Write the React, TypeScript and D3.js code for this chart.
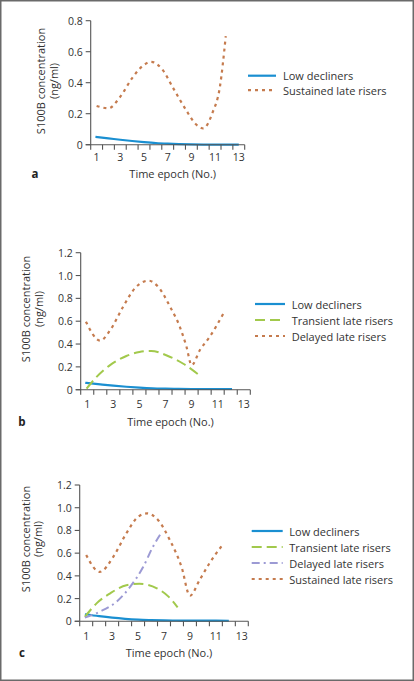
import React from "react";
import * as d3 from "d3";

// ---------- Data ----------
const xTickLabels = [1, 3, 5, 7, 9, 11, 13];
const yTicksA = [0, 0.2, 0.4, 0.6, 0.8];
const yTicksBC = [0, 0.2, 0.4, 0.6, 0.8, 1.0, 1.2];

// Panel a
const lowAx = [0.9, 2, 3, 4, 5, 6, 7, 8, 9, 10, 11, 12, 13];
const lowAy = [0.05, 0.041, 0.032, 0.024, 0.017, 0.011, 0.007, 0.004, 0.002, 0.001, 0, 0, 0];
const sustAx = [1, 2, 3, 4, 5, 5.6, 6.5, 7.5, 8.5, 9.4, 10, 10.8, 11.4, 11.9];
const sustAy = [0.25, 0.235, 0.31, 0.43, 0.515, 0.535, 0.49, 0.36, 0.23, 0.13, 0.105, 0.21, 0.37, 0.7];

// Panel b
const lowBx = [0.85, 2, 3, 4, 5, 6, 7, 8, 9, 10, 11, 12.1];
const lowBy = [0.06, 0.047, 0.036, 0.026, 0.018, 0.012, 0.009, 0.007, 0.006, 0.006, 0.006, 0.006];
const transBx = [0.95, 1.7, 2.75, 4.0, 5.0, 5.9, 7.1, 8.4, 9.5];
const transBy = [0.01, 0.11, 0.215, 0.295, 0.33, 0.34, 0.3, 0.225, 0.135];
const delayBx = [0.9, 2.0, 2.75, 3.75, 4.65, 5.7, 6.45, 7.35, 8.1, 8.6, 9.0, 9.65, 10.4, 11.45];
const delayBy = [0.596, 0.43, 0.52, 0.727, 0.888, 0.955, 0.9, 0.727, 0.55, 0.38, 0.215, 0.35, 0.465, 0.67];

// Panel c
const lowCx = [0.9, 2, 3, 4, 5, 6, 7, 8, 9, 10, 11, 12];
const lowCy = [0.062, 0.045, 0.032, 0.022, 0.015, 0.011, 0.008, 0.007, 0.006, 0.006, 0.006, 0.005];
const transCx = [0.9, 1.8, 2.85, 4.1, 5.1, 6.45, 7.35, 8.05];
const transCy = [0.04, 0.158, 0.246, 0.318, 0.33, 0.29, 0.217, 0.123];
const delayCx = [0.9, 2.05, 3.35, 4.4, 5.4, 6.15, 6.85];
const delayCy = [0.032, 0.085, 0.173, 0.305, 0.48, 0.657, 0.79];
const sustCx = [1.0, 2.05, 3.1, 4.1, 5.0, 5.7, 6.55, 7.45, 8.35, 9.0, 9.75, 10.5, 11.45];
const sustCy = [0.584, 0.435, 0.57, 0.775, 0.92, 0.95, 0.89, 0.716, 0.48, 0.225, 0.364, 0.51, 0.663];

const legendA = ["Low decliners", "Sustained late risers"];
const legendB = ["Low decliners", "Transient late risers", "Delayed late risers"];
const legendC = ["Low decliners", "Transient late risers", "Delayed late risers", "Sustained late risers"];

// ---------- Styles ----------
const FONT = "'Open Sans', 'Noto Sans', sans-serif";
const AXIS = "#555";
const TEXT = "#333";
const STY = {
  low: { color: "#1a8fd1", dash: "none", width: 2.2 },
  trans: { color: "#a2c94c", dash: "10 5", width: 2 },
  delay: { color: "#9c9ad4", dash: "8 4 2 4", width: 2 },
  sust: { color: "#c57b4e", dash: "3 4", width: 2.2 },
};

type Series = { xs: number[]; ys: number[]; style: { color: string; dash: string; width: number } };

type PanelCfg = {
  x0: number; x1: number; yBottom: number; yTop: number; yMax: number;
  yTicks: number[]; tickFmt: (v: number) => string;
  series: Series[]; legend: string[]; legendStyles: Series["style"][];
  legLine: [number, number]; legText: number; legY0: number; legDy: number;
  yLabelX: [number, number]; yLabelCY: number;
  tickLabelDy: number; titleY: number; letter: string; letterX: number;
};

function Panel({ c }: { c: PanelCfg }) {
  const x = d3.scaleLinear().domain([0.5, 13.5]).range([c.x0, c.x1]);
  const y = d3.scaleLinear().domain([0, c.yMax]).range([c.yBottom, c.yTop]);
  const line = d3
    .line<[number, number]>()
    .x((d) => x(d[0]))
    .y((d) => y(d[1]))
    .curve(d3.curveMonotoneX);
  const minorTicks = d3.range(0.5, 13.51, 1);
  const titleX = (c.x0 + c.x1) / 2 + 5;
  return (
    <g fontFamily={FONT}>
      {c.series.map((s, i) => (
        <path
          key={i}
          d={line(s.xs.map((v, j) => [v, s.ys[j]] as [number, number])) || ""}
          fill="none"
          stroke={s.style.color}
          strokeWidth={s.style.width}
          strokeDasharray={s.style.dash}
        />
      ))}
      {/* axes */}
      <line x1={c.x0} x2={c.x0} y1={c.yTop} y2={c.yBottom} stroke={AXIS} strokeWidth={1.1} />
      <line x1={c.x0 - 5} x2={c.x1} y1={c.yBottom} y2={c.yBottom} stroke={AXIS} strokeWidth={1.1} />
      {c.yTicks.map((t) => (
        <g key={t}>
          <line x1={c.x0 - 5} x2={c.x0} y1={y(t)} y2={y(t)} stroke={AXIS} strokeWidth={1.1} />
          <text x={c.x0 - 8} y={y(t)} textAnchor="end" dominantBaseline="central" fontSize={10.5} fill={TEXT}>
            {c.tickFmt(t)}
          </text>
        </g>
      ))}
      {minorTicks.map((t) => (
        <line key={t} x1={x(t)} x2={x(t)} y1={c.yBottom} y2={c.yBottom + 5} stroke={AXIS} strokeWidth={1.1} />
      ))}
      {xTickLabels.map((t) => (
        <text key={t} x={x(t)} y={c.yBottom + c.tickLabelDy} textAnchor="middle" dominantBaseline="central" fontSize={10.5} fill={TEXT}>
          {t}
        </text>
      ))}
      <text x={titleX} y={c.titleY} textAnchor="middle" dominantBaseline="central" fontSize={11} fill={TEXT}>
        Time epoch (No.)
      </text>
      <text x={c.letterX} y={c.titleY} textAnchor="middle" dominantBaseline="central" fontSize={11.5} fontWeight="bold" fill="#222">
        {c.letter}
      </text>
      <text transform={`translate(${c.yLabelX[0]},${c.yLabelCY}) rotate(-90)`} textAnchor="middle" dominantBaseline="central" fontSize={11} fill={TEXT}>
        S100B concentration
      </text>
      <text transform={`translate(${c.yLabelX[1]},${c.yLabelCY}) rotate(-90)`} textAnchor="middle" dominantBaseline="central" fontSize={11} fill={TEXT}>
        (ng/ml)
      </text>
      {c.legend.map((name, i) => {
        const st = c.legendStyles[i];
        const yy = c.legY0 + i * c.legDy;
        return (
          <g key={name}>
            <line x1={c.legLine[0]} x2={c.legLine[1]} y1={yy} y2={yy} stroke={st.color} strokeWidth={st.width} strokeDasharray={st.dash} />
            <text x={c.legText} y={yy} dominantBaseline="central" fontSize={11} fill={TEXT}>
              {name}
            </text>
          </g>
        );
      })}
    </g>
  );
}

const fmtA = (v: number) => (v === 0 ? "0" : d3.format(".1f")(v));

const panelA: PanelCfg = {
  x0: 90.7, x1: 244.7, yBottom: 144.7, yTop: 20.7, yMax: 0.8,
  yTicks: yTicksA, tickFmt: fmtA,
  series: [
    { xs: lowAx, ys: lowAy, style: STY.low },
    { xs: sustAx, ys: sustAy, style: STY.sust },
  ],
  legend: legendA, legendStyles: [STY.low, STY.sust],
  legLine: [248, 276], legText: 283, legY0: 75.7, legDy: 14.5,
  yLabelX: [40.5, 53], yLabelCY: 81,
  tickLabelDy: 12.5, titleY: 173.5, letter: "a", letterX: 35,
};

const panelB: PanelCfg = {
  x0: 80.7, x1: 250.3, yBottom: 389.7, yTop: 252.7, yMax: 1.2,
  yTicks: yTicksBC, tickFmt: fmtA,
  series: [
    { xs: lowBx, ys: lowBy, style: STY.low },
    { xs: transBx, ys: transBy, style: STY.trans },
    { xs: delayBx, ys: delayBy, style: STY.sust },
  ],
  legend: legendB, legendStyles: [STY.low, STY.trans, STY.sust],
  legLine: [255, 285], legText: 291.7, legY0: 304, legDy: 16,
  yLabelX: [25, 38], yLabelCY: 309,
  tickLabelDy: 14.5, titleY: 421.7, letter: "b", letterX: 22,
};

const panelC: PanelCfg = {
  x0: 79.7, x1: 248.3, yBottom: 621.3, yTop: 485, yMax: 1.2,
  yTicks: yTicksBC, tickFmt: fmtA,
  series: [
    { xs: lowCx, ys: lowCy, style: STY.low },
    { xs: transCx, ys: transCy, style: STY.trans },
    { xs: delayCx, ys: delayCy, style: STY.delay },
    { xs: sustCx, ys: sustCy, style: STY.sust },
  ],
  legend: legendC, legendStyles: [STY.low, STY.trans, STY.delay, STY.sust],
  legLine: [251.7, 282.7], legText: 289.3, legY0: 531, legDy: 16,
  yLabelX: [25, 37.5], yLabelCY: 539,
  tickLabelDy: 15, titleY: 652.7, letter: "c", letterX: 22,
};

export default function App() {
  return (
    <svg
      width={414}
      height={681}
      style={{ position: "absolute", left: 0, top: 0, background: "#fff" }}
    >
      <rect x={0.75} y={0.75} width={412.5} height={679.5} fill="#fff" stroke="#6a6a6a" strokeWidth={1.5} />
      <Panel c={panelA} />
      <Panel c={panelB} />
      <Panel c={panelC} />
    </svg>
  );
}
